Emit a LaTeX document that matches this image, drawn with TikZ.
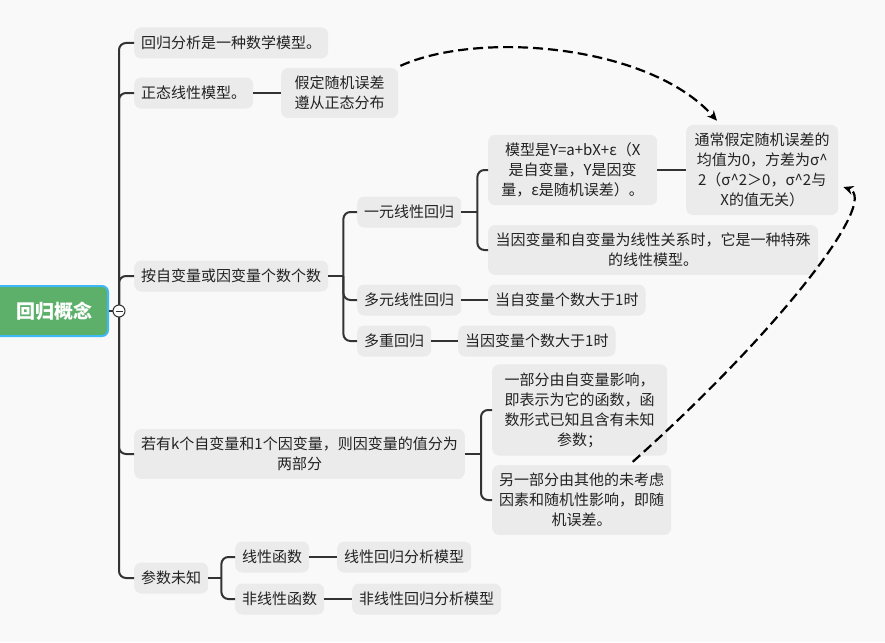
\documentclass[tikz,border=0pt]{standalone}
\usepackage{fontspec}
\setmainfont{Noto Sans CJK SC}
\usetikzlibrary{arrows.meta,calc}
\definecolor{bg}{HTML}{F9F9F9}
\definecolor{boxfill}{HTML}{EBEBEB}
\definecolor{linec}{HTML}{333333}
\definecolor{txt}{HTML}{222222}
\definecolor{rootgreen}{HTML}{5CB06A}
\definecolor{rootblue}{HTML}{3FB8F5}
\tikzset{
  topic/.style={rectangle, rounded corners=7pt, fill=boxfill, text=txt,
    font=\fontsize{15}{20}\selectfont, inner xsep=7pt, inner ysep=8pt,
    minimum height=31pt, align=center, anchor=west},
  roottopic/.style={rectangle, rounded corners=6pt, fill=rootgreen, draw=rootblue,
    line width=2pt, text=white, font=\fontsize{19}{22}\selectfont\bfseries,
    minimum width=122pt, minimum height=50pt, anchor=west},
  conn/.style={draw=linec, line width=2pt, rounded corners=7pt},
  rel/.style={draw=black, line width=2.2pt, dash pattern=on 10pt off 5pt,
    -{Stealth[length=10pt,width=9pt]}},
  collapse/.style={circle, draw=linec, fill=white, line width=1pt,
    minimum size=12pt, inner sep=0pt}
}
\begin{document}
\begin{tikzpicture}[x=1pt,y=-1pt]
\useasboundingbox (0,0) rectangle (885,642);
\fill[bg] (0,0) rectangle (885,642);

\node[roottopic] (root) at (-15,311) {\hspace*{14pt}回归概念};
\coordinate (j0) at (119,311);

\node[topic] (n1) at (134,43) {回归分析是一种数学模型。};
\node[topic] (n2) at (134,93) {正态线性模型。};
\node[topic, minimum width=117pt] (n2a) at (281,93) {假定随机误差\\遵从正态分布};
\node[topic] (n3) at (134,276) {按自变量或因变量个数个数};
\node[topic] (n31) at (357,212) {一元线性回归};
\node[topic, minimum width=169pt] (n311) at (488,170) {模型是Y=a+bX+ε（X\\是自变量，Y是因变\\量，ε是随机误差）。};
\node[topic, minimum width=152pt] (n3111) at (686,170) {通常假定随机误差的\\均值为0，方差为σ\textasciicircum\\2（σ\textasciicircum2＞0，σ\textasciicircum2与\\X的值无关）};
\node[topic, minimum width=330pt] (n312) at (488,250) {当因变量和自变量为线性关系时，它是一种特殊\\的线性模型。};
\node[topic] (n32) at (357,300) {多元线性回归};
\node[topic] (n321) at (488,300) {当自变量个数大于1时};
\node[topic] (n33) at (357,341) {多重回归};
\node[topic] (n331) at (458,341) {当因变量个数大于1时};
\node[topic, minimum width=326pt] (n4) at (134,454) {若有k个自变量和1个因变量，则因变量的值分为\\两部分};
\node[topic, minimum width=175pt] (n41) at (492,410) {一部分由自变量影响，\\即表示为它的函数，函\\数形式已知且含有未知\\参数；};
\node[topic, minimum width=179pt] (n42) at (492,500) {另一部分由其他的未考虑\\因素和随机性影响，即随\\机误差。};
\node[topic] (n5) at (134,578) {参数未知};
\node[topic] (n51) at (235,557) {线性函数};
\node[topic] (n511) at (337,557) {线性回归分析模型};
\node[topic] (n52) at (235,599) {非线性函数};
\node[topic] (n521) at (352,599) {非线性回归分析模型};

% trunk
\draw[conn] (root.east) -- (j0);
\foreach \c in {n1,n2,n3,n4,n5} { \draw[conn] (j0) |- (\c.west); }

% branches
\draw[conn] (n3.east) -- ++(15,0) coordinate (j3);
\foreach \c in {n31,n32,n33} { \draw[conn] (j3) |- (\c.west); }
\draw[conn] (n31.east) -- ++(16,0) coordinate (j31);
\foreach \c in {n311,n312} { \draw[conn] (j31) |- (\c.west); }
\draw[conn] (n4.east) -- ++(16,0) coordinate (j4);
\foreach \c in {n41,n42} { \draw[conn] (j4) |- (\c.west); }
\draw[conn] (n5.east) -- ++(13,0) coordinate (j5);
\foreach \c in {n51,n52} { \draw[conn] (j5) |- (\c.west); }

\draw[conn] (n2) -- (n2a);
\draw[conn] (n311) -- (n3111);
\draw[conn] (n32) -- (n321);
\draw[conn] (n33) -- (n331);
\draw[conn] (n51) -- (n511);
\draw[conn] (n52) -- (n521);

% relationship arrows
\coordinate (a1s) at ($(n2a.north east)+(2,-2)$);
\coordinate (a1e) at ($(n3111.north west)+(31,-4)$);
\draw[rel] (a1s) .. controls (480,30) and (650,45) .. (a1e);
\coordinate (a2s) at ($(n42.north)+(51,-3)$);
\coordinate (a2e) at ($(n3111.east)+(5,17)$);
\draw[rel] (a2s) .. controls (780,330) and (880,200) .. (a2e);

% collapse marker
\node[collapse] (col) at (j0) {};
\draw[linec, line width=1pt] ($(col.center)+(-3.5,0)$) -- ($(col.center)+(3.5,0)$);
\end{tikzpicture}
\end{document}
